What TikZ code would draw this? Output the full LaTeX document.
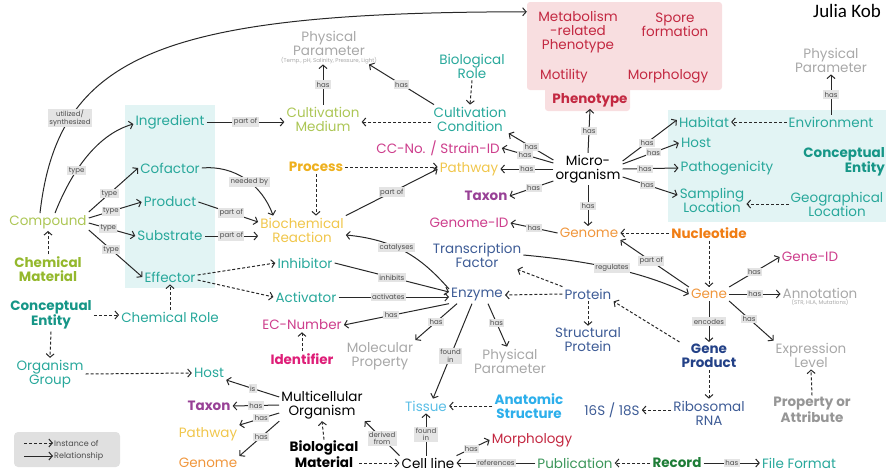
\documentclass[tikz,border=0pt]{standalone}
\usepackage{fontspec}
\setmainfont{Poppins}
\newfontfamily\signfont{Carlito}
\usetikzlibrary{arrows.meta, positioning, backgrounds}

\definecolor{tealc}{RGB}{40,168,155}
\definecolor{tealb}{RGB}{22,150,135}
\definecolor{limec}{RGB}{172,198,85}
\definecolor{limeb}{RGB}{148,184,45}
\definecolor{goldc}{RGB}{240,198,75}
\definecolor{goldb}{RGB}{238,176,30}
\definecolor{grayc}{RGB}{168,168,168}
\definecolor{grayb}{RGB}{150,150,150}
\definecolor{magc}{RGB}{205,62,140}
\definecolor{magb}{RGB}{222,30,120}
\definecolor{purpc}{RGB}{152,65,150}
\definecolor{bluec}{RGB}{62,92,150}
\definecolor{blueb}{RGB}{35,65,135}
\definecolor{orangec}{RGB}{240,150,60}
\definecolor{orangeb}{RGB}{240,125,20}
\definecolor{redc}{RGB}{195,40,65}
\definecolor{ltbluec}{RGB}{90,190,230}
\definecolor{ltblueb}{RGB}{45,175,235}
\definecolor{greenc}{RGB}{60,150,90}
\definecolor{greenb}{RGB}{30,125,55}
\definecolor{cyanbox}{RGB}{226,244,244}
\definecolor{pinkbox}{RGB}{248,222,224}
\definecolor{lblgray}{RGB}{228,228,228}
\definecolor{lnc}{RGB}{40,40,40}

\begin{document}
\begin{tikzpicture}[
    x=1pt, y=-1pt,
    ent/.style={align=center, inner sep=2pt, font=\fontsize{13.5}{14}\selectfont},
    bent/.style={ent, font=\fontsize{13.5}{14}\selectfont\bfseries},
    subtxt/.style={inner sep=0pt, text=grayc, font=\fontsize{5.5}{6}\selectfont},
    lbl/.style={fill=lblgray, text=black!70, inner sep=1.4pt, align=center, font=\fontsize{7}{7.5}\selectfont},
    legtxt/.style={anchor=west, inner sep=1pt, text=black!70, font=\fontsize{8}{9}\selectfont},
    rel/.style={draw=lnc, line width=1pt, -{Straight Barb[length=3.5pt, width=8pt]}},
    inst/.style={rel, dash pattern=on 3pt off 2pt}
]
    \useasboundingbox (0,0) rectangle (886,474);

    % background panels
    \fill[cyanbox] (125,105) rectangle (215,288);
    \fill[cyanbox] (668,110) rectangle (886,222);
    \node[fill=pinkbox, rounded corners=3pt, inner sep=0pt, minimum width=195pt, minimum height=88pt] (phenobox) at (624.5,46) {};
    \fill[pinkbox, rounded corners=3pt] (545,80) rectangle (630,111);
    \fill[black!12, rounded corners=4pt] (14,432) rectangle (120,467);

    % phenotype panel
    \node[ent, text=redc] (metab) at (578,32) {Metabolism\\-related\\Phenotype};
    \node[ent, text=redc] (spore) at (675,25) {Spore\\formation};
    \node[ent, text=redc] (motil) at (564,76) {Motility};
    \node[ent, text=redc] (morphA) at (668,76) {Morphology};
    \node[bent, text=redc] (pheno) at (590,100) {Phenotype};
    \node[anchor=west, inner sep=0pt, font=\signfont\fontsize{19}{20}\selectfont] (author) at (813,11) {Julia Kob};

    % cultivation
    \node[ent, text=grayc] (physA) at (329,43) {Physical\\Parameter};
    \node[subtxt, below=0pt of physA] (physAsub) {(Temp., pH, Salinity, Pressure, Light)};
    \node[ent, text=tealc] (biorole) at (472,66) {Biological\\Role};
    \node[ent, text=limec] (cultmed) at (323,119) {Cultivation\\Medium};
    \node[ent, text=tealc] (cultcond) at (470,119) {Cultivation\\Condition};
    \node[ent, text=tealc] (ingred) at (170,122) {Ingredient};

    % environment panel
    \node[ent, text=grayc] (physB) at (831,60) {Physical\\Parameter};
    \node[ent, text=tealc] (envir) at (831,122) {Environment};
    \node[ent, text=tealc] (habitat) at (704,122) {Habitat};
    \node[ent, text=tealc] (hostA) at (696,143) {Host};
    \node[ent, text=tealc] (pathog) at (727,168) {Pathogenicity};
    \node[ent, text=tealc] (samploc) at (712,200) {Sampling\\Location};
    \node[ent, text=tealc] (geoloc) at (837,204) {Geographical\\Location};
    \node[bent, text=tealb, align=right, anchor=east, inner sep=1pt] (concA) at (886,162) {Conceptual\\Entity};

    % micro-organism
    \node[ent] (micro) at (588,169) {Micro-\\organism};
    \node[ent, text=magc] (ccno) at (438,148) {CC-No. / Strain-ID};
    \node[ent, text=goldc] (pathA) at (469,169) {Pathway};
    \node[bent, text=purpc] (taxonA) at (486,196) {Taxon};
    \node[bent, text=goldb] (process) at (316,167) {Process};

    % compounds
    \node[ent, text=limec] (compound) at (48,222) {Compound};
    \node[ent, text=tealc] (cofactor) at (170,168) {Cofactor};
    \node[ent, text=tealc] (product) at (170,202) {Product};
    \node[ent, text=tealc] (substr) at (170,236) {Substrate};
    \node[ent, text=tealc] (effector) at (170,277) {Effector};
    \node[bent, text=limeb] (chemmat) at (48,269) {Chemical\\Material};
    \node[ent, text=goldc] (biochem) at (302,230) {Biochemical\\Reaction};
    \node[ent, text=tealc] (inhib) at (305,263) {Inhibitor};
    \node[ent, text=tealc] (activ) at (306,297) {Activator};
    \node[bent, text=tealb] (concB) at (51,315) {Conceptual\\Entity};
    \node[ent, text=tealc] (chemrole) at (170,317) {Chemical Role};

    % genome and proteins
    \node[ent, text=magc] (genomeid) at (469,223) {Genome-ID};
    \node[ent, text=orangec] (genomeA) at (589,233) {Genome};
    \node[bent, text=orangeb] (nucleo) at (709,233) {Nucleotide};
    \node[ent, text=bluec] (tfactor) at (477,255) {Transcription\\Factor};
    \node[ent, text=magc] (geneid) at (810,257) {Gene-ID};
    \node[ent, text=bluec] (enzyme) at (477,295) {Enzyme};
    \node[ent, text=bluec] (protein) at (588,294) {Protein};
    \node[ent, text=orangec] (gene) at (709,294) {Gene};
    \node[ent, text=grayc] (annot) at (820,293) {Annotation};
    \node[subtxt, below=-1pt of annot] (annotsub) {(STR, HLA, Mutations)};
    \node[ent, text=magc] (ecnum) at (302,325) {EC-Number};
    \node[ent, text=bluec] (structp) at (588,340) {Structural\\Protein};
    \node[bent, text=blueb] (geneprod) at (709,356) {Gene\\Product};
    \node[ent, text=grayc] (exprlvl) at (811,355) {Expression\\Level};
    \node[bent, text=magb] (ident) at (302,359) {Identifier};
    \node[ent, text=grayc] (molprop) at (380,356) {Molecular\\Property};
    \node[ent, text=grayc] (physC) at (510,361) {Physical\\Parameter};
    \node[bent, text=grayb] (propattr) at (812,410) {Property or\\Attribute};
    \node[ent, text=bluec] (rrna16) at (612,410) {16S / 18S};
    \node[ent, text=bluec] (ribo) at (709,413) {Ribosomal\\RNA};

    % organisms and records
    \node[ent, text=tealc] (orggroup) at (50,374) {Organism\\Group};
    \node[ent, text=tealc] (hostB) at (209,373) {Host};
    \node[ent] (multicell) at (322,405) {Multicellular\\Organism};
    \node[bent, text=purpc] (taxonB) at (209,406) {Taxon};
    \node[ent, text=goldc] (pathB) at (208,434) {Pathway};
    \node[ent, text=orangec] (genomeB) at (208,463) {Genome};
    \node[ent, text=ltbluec] (tissue) at (426,406) {Tissue};
    \node[bent, text=ltblueb] (anatom) at (529,406) {Anatomic\\Structure};
    \node[ent, text=redc] (morphB) at (532,440) {Morphology};
    \node[bent, inner sep=1pt] (biomat) at (324,454) {Biological\\Material};
    \node[ent] (cellline) at (428,463) {Cell line};
    \node[ent, text=greenc] (publ) at (575,463) {Publication};
    \node[bent, text=greenb] (record) at (677,463) {Record};
    \node[ent, text=tealc] (filefmt) at (799,463) {File Format};

    % legend
    \node[legtxt] (leginst) at (53,443) {Instance of};
    \node[legtxt] (legrel) at (53,456) {Relationship};
    \coordinate (legA) at (24,443);
    \coordinate (legB) at (24,456);
    \draw[inst] (legA) -- (leginst.west);
    \draw[rel] (legB) -- (legrel.west);

    % compound relations
    \draw[rel] ([xshift=-8pt]compound.north) .. controls (58,55) and (160,12) .. ([yshift=-10pt]phenobox.north west)
        node[lbl, pos=.24] {utilized/\\synthesized};
    \draw[rel] ([xshift=7pt]compound.north) .. controls (70,175) and (95,135) .. ([yshift=-2pt]ingred.west)
        node[lbl, pos=.38] {type};
    \draw[rel] ([yshift=10pt]compound.east) -- (cofactor.west) node[lbl, pos=.42] {type};
    \draw[rel] ([yshift=4pt]compound.east) -- (product.west) node[lbl, pos=.42] {type};
    \draw[rel] ([yshift=-1pt]compound.east) -- (substr.west) node[lbl, pos=.42] {type};
    \draw[rel] ([yshift=-8pt]compound.east) -- (effector.west) node[lbl, pos=.42] {type};
    \draw[inst] (chemmat.north) -- (compound.south);
    \draw[rel] (ingred.east) -- (ingred.east -| cultmed.west) node[lbl, midway] {part of};
    \draw[rel] (cultmed.north) -- (cultmed.north |- physAsub.south) node[lbl, midway] {has};
    \draw[rel] ([xshift=-36pt]cultcond.north) -- ([xshift=40pt]physAsub.south) node[lbl, midway] {has};
    \draw[inst] ([yshift=-3pt]cultcond.west) -- ([yshift=-3pt]cultmed.east);
    \draw[inst] (biorole.south) -- (cultcond.north);

    % micro-organism relations
    \draw[rel] ([yshift=9pt]micro.west) -- (cultcond.south east) node[lbl, pos=.5] {has};
    \draw[rel] ([yshift=6pt]micro.west) -- (ccno.east) node[lbl, pos=.55] {has};
    \draw[rel] (micro.west) -- (pathA.east) node[lbl, pos=.5] {has};
    \draw[rel] ([yshift=-12pt]micro.west) -- (taxonA.east) node[lbl, pos=.45] {has};
    \draw[rel] (micro.north) -- (pheno.south) node[lbl, midway] {has};
    \draw[rel] (micro.south) -- (micro.south |- genomeA.north) node[lbl, midway] {has};
    \draw[rel] ([yshift=8pt]micro.east) -- ([yshift=2pt]habitat.west) node[lbl, pos=.45] {has};
    \draw[rel] ([yshift=5pt]micro.east) -- (hostA.west) node[lbl, pos=.55] {has};
    \draw[rel] (micro.east) -- (pathog.west) node[lbl, pos=.4] {has};
    \draw[rel] ([yshift=-8pt]micro.east) -- ([yshift=5pt]samploc.west) node[lbl, pos=.45] {has};
    \draw[rel] (envir.north) -- (physB.south) node[lbl, midway] {has};
    \draw[inst] (envir.west) -- (habitat.east);
    \draw[inst] (geoloc.west) -- (geoloc.west -| samploc.east);

    % reactions
    \draw[inst] (process.east) -- (process.east -| pathA.west);
    \draw[inst] (process.south) -- (process.south |- biochem.north);
    \draw[rel] (biochem.north east) -- (pathA.west) node[lbl, midway] {part of};
    \draw[rel] (cofactor.east) .. controls (235,165) and (262,185) .. ([xshift=15pt]biochem.north west)
        node[lbl, pos=.55] {needed by};
    \draw[rel] (product.east) -- ([yshift=8pt]biochem.west) node[lbl, pos=.55] {part of};
    \draw[rel] (substr.east) -- (substr.east -| biochem.west) node[lbl, pos=.5] {part of};
    \draw[inst] ([yshift=2pt]effector.east) -- (inhib.west);
    \draw[inst] ([yshift=-3pt]effector.east) -- (activ.west);
    \draw[inst] (chemrole.north) -- (effector.south);
    \draw[rel] ([yshift=6pt]enzyme.west) .. controls (425,262) and (400,240) .. ([yshift=-5pt]biochem.east)
        node[lbl, pos=.62] {catalyses};
    \draw[rel] (inhib.east) -- ([yshift=3pt]enzyme.west) node[lbl, pos=.5] {inhibits};
    \draw[rel] (activ.east) -- (activ.east -| enzyme.west) node[lbl, pos=.45] {activates};

    % enzyme and proteins
    \draw[rel] ([xshift=-28pt]enzyme.south) -- (ecnum.east) node[lbl, pos=.55] {has};
    \draw[inst] (ident.north) -- (ecnum.south);
    \draw[rel] ([xshift=-20pt]enzyme.south) -- (molprop.north east) node[lbl, pos=.5] {has};
    \draw[rel] ([xshift=-5pt]enzyme.south) -- ([xshift=7pt]tissue.north) node[lbl, pos=.55] {found\\in};
    \draw[rel] ([xshift=11pt]enzyme.south) -- ([xshift=-3pt]physC.north) node[lbl, pos=.45] {has};
    \draw[inst] (protein.west) -- (enzyme.east);
    \draw[inst] (protein.north west) -- ([xshift=-6pt]tfactor.south east);
    \draw[inst] (protein.south) -- (structp.north);
    \draw[rel] (tfactor.east) .. controls (600,262) and (650,275) .. (gene.west) node[lbl, pos=.45] {regulates};

    % genes
    \draw[rel] (genomeA.west) -- (genomeid.east) node[lbl, midway] {has};
    \draw[rel] (gene.north west) -- (genomeA.south east) node[lbl, pos=.55] {part of};
    \draw[inst] (nucleo.west) -- (genomeA.east);
    \draw[inst] (nucleo.south) -- (gene.north);
    \draw[rel] (gene.north east) -- (geneid.west) node[lbl, pos=.5] {has};
    \draw[rel] (gene.east) -- (gene.east -| annot.west) node[lbl, midway] {has};
    \draw[rel] (gene.south east) -- (exprlvl.north west) node[lbl, pos=.45] {has};
    \draw[rel] (gene.south) -- (geneprod.north) node[lbl, midway] {encodes};
    \draw[inst] (geneprod.north west) -- (protein.south east);
    \draw[inst] (geneprod.south) -- (ribo.north);
    \draw[inst] ([yshift=3pt]ribo.west) -- (rrna16.east);
    \draw[inst] (propattr.north) -- (exprlvl.south);

    % organisms
    \draw[inst] (concB.east) -- (concB.east -| chemrole.west);
    \draw[inst] (concB.south) -- (orggroup.north);
    \draw[inst] (orggroup.east) -- (hostB.west);
    \draw[rel] ([yshift=8pt]multicell.west) -- (hostB.south east) node[lbl, pos=.5] {is};
    \draw[rel] (multicell.west) -- (taxonB.east) node[lbl, pos=.5] {has};
    \draw[rel] ([yshift=-8pt]multicell.west) -- (pathB.north east) node[lbl, pos=.45] {has};
    \draw[rel] (multicell.south west) -- (genomeB.north east) node[lbl, pos=.45] {has};
    \draw[inst] (biomat.north) -- (multicell.south);
    \draw[inst] (biomat.east |- cellline.west) -- (cellline.west);
    \draw[rel] (cellline.north west) -- (multicell.south east) node[lbl, pos=.5] {derived\\from};
    \draw[rel] (tissue.south |- cellline.north) -- (tissue.south) node[lbl, midway] {found\\in};
    \draw[inst] (anatom.west) -- (tissue.east);
    \draw[rel] (cellline.north east) -- (morphB.west) node[lbl, pos=.45] {has};
    \draw[rel] (publ.west) -- (cellline.east) node[lbl, midway] {references};
    \draw[inst] (record.west) -- (publ.east);
    \draw[rel] (record.east) -- (filefmt.west) node[lbl, midway] {has};
\end{tikzpicture}
\end{document}
